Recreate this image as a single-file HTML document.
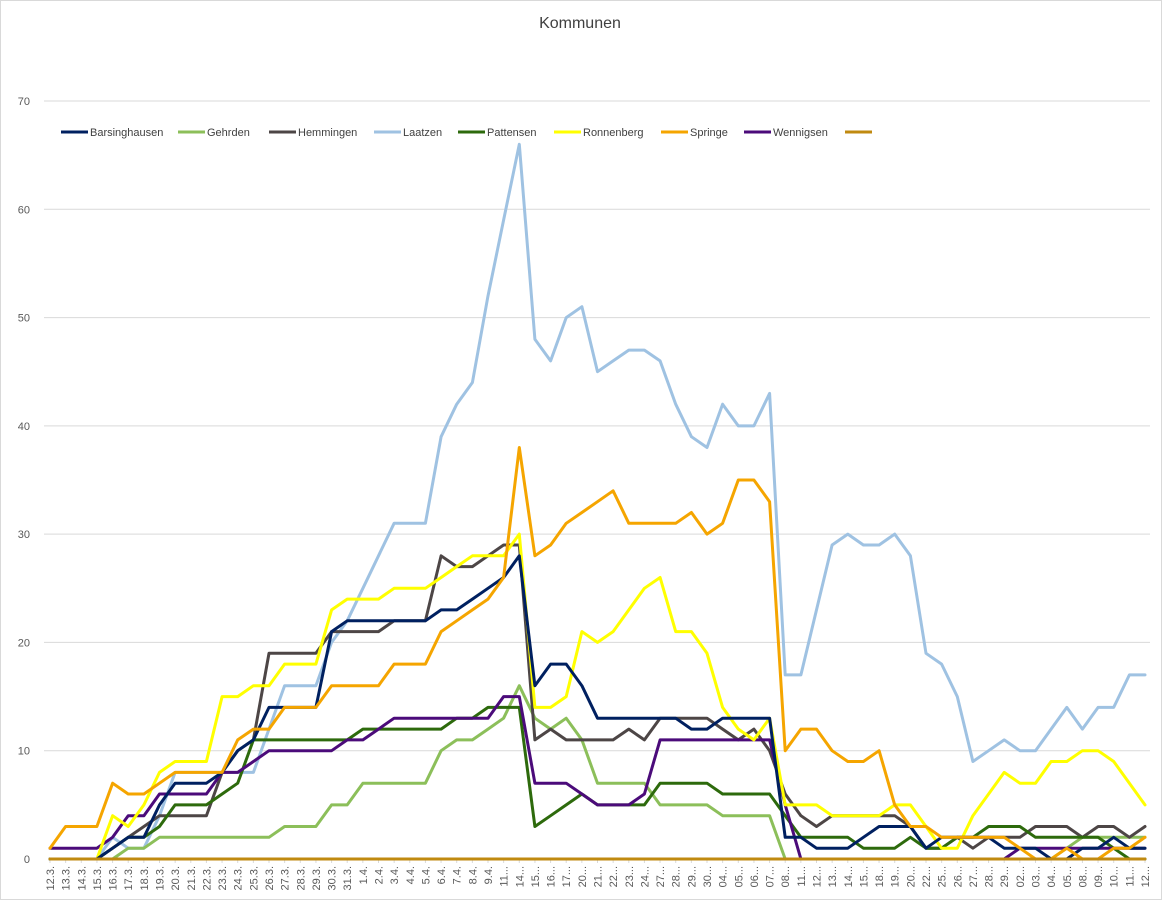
<!DOCTYPE html>
<html><head><meta charset="utf-8"><style>
body{margin:0;background:#fff;}
#wrap{position:relative;width:1162px;height:900px;overflow:hidden;font-family:"Liberation Sans",sans-serif;}
</style></head><body>
<div id="wrap">
<svg id="chart" width="1162" height="900"></svg>
</div>
<script>
const categories=["12.3.","13.3.","14.3.","15.3.","16.3.","17.3.","18.3.","19.3.","20.3.","21.3.","22.3.","23.3.","24.3.","25.3.","26.3.","27.3.","28.3.","29.3.","30.3.","31.3.","1.4.","2.4.","3.4.","4.4.","5.4.","6.4.","7.4.","8.4.","9.4.","11...","14...","15...","16...","17...","20...","21...","22...","23...","24...","27...","28...","29...","30...","04...","05...","06...","07...","08...","11...","12...","13...","14...","15...","18...","19...","20...","22...","25...","26...","27...","28...","29...","02...","03...","04...","05...","08...","09...","10...","11...","12..."];
const yTicks=[0,10,20,30,40,50,60,70];
const seriesNames=["Barsinghausen","Gehrden","Hemmingen","Laatzen","Pattensen","Ronnenberg","Springe","Wennigsen",""];
const barsinghausen=[0,0,0,0,1,2,2,5,7,7,7,8,10,11,14,14,14,14,21,22,22,22,22,22,22,23,23,24,25,26,28,16,18,18,16,13,13,13,13,13,13,12,12,13,13,13,13,2,2,1,1,1,2,3,3,3,1,2,2,2,2,1,1,1,0,0,1,1,2,1,1];
const gehrden=[0,0,0,0,0,1,1,2,2,2,2,2,2,2,2,3,3,3,5,5,7,7,7,7,7,10,11,11,12,13,16,13,12,13,11,7,7,7,7,5,5,5,5,4,4,4,4,0,0,0,0,0,0,0,0,0,0,0,0,0,0,0,0,0,0,1,2,2,2,2,2];
const hemmingen=[0,0,0,0,1,2,3,4,4,4,4,8,10,11,19,19,19,19,21,21,21,21,22,22,22,28,27,27,28,29,29,11,12,11,11,11,11,12,11,13,13,13,13,12,11,12,10,6,4,3,4,4,4,4,4,3,1,1,2,1,2,2,2,3,3,3,2,3,3,2,3];
const laatzen=[0,0,0,0,2,1,1,4,8,8,8,8,8,8,12,16,16,16,20,22,25,28,31,31,31,39,42,44,52,59,66,48,46,50,51,45,46,47,47,46,42,39,38,42,40,40,43,17,17,23,29,30,29,29,30,28,19,18,15,9,10,11,10,10,12,14,12,14,14,17,17];
const pattensen=[0,0,0,0,1,2,2,3,5,5,5,6,7,11,11,11,11,11,11,11,12,12,12,12,12,12,13,13,14,14,14,3,4,5,6,5,5,5,5,7,7,7,7,6,6,6,6,4,2,2,2,2,1,1,1,2,1,1,2,2,3,3,3,2,2,2,2,2,1,0,0];
const ronnenberg=[0,0,0,0,4,3,5,8,9,9,9,15,15,16,16,18,18,18,23,24,24,24,25,25,25,26,27,28,28,28,30,14,14,15,21,20,21,23,25,26,21,21,19,14,12,11,13,5,5,5,4,4,4,4,5,5,3,1,1,4,6,8,7,7,9,9,10,10,9,7,5];
const springe=[1,3,3,3,7,6,6,7,8,8,8,8,11,12,12,14,14,14,16,16,16,16,18,18,18,21,22,23,24,26,38,28,29,31,32,33,34,31,31,31,31,32,30,31,35,35,33,10,12,12,10,9,9,10,5,3,3,2,2,2,2,2,1,0,0,1,0,0,1,1,2];
const wennigsen=[1,1,1,1,2,4,4,6,6,6,6,8,8,9,10,10,10,10,10,11,11,12,13,13,13,13,13,13,13,15,15,7,7,7,6,5,5,5,6,11,11,11,11,11,11,11,11,5,0,0,0,0,0,0,0,0,0,0,0,0,0,0,1,1,1,1,1,1,1,1,1];
const baseline=categories.map(()=>0);
const allSeries=[barsinghausen,gehrden,hemmingen,laatzen,pattensen,ronnenberg,springe,wennigsen,baseline];
const colors=["#002060","#8cbf5a","#4d4646","#9fc2e2","#2d6a0c","#ffff00","#f5a500","#4b0b7a","#c08a10"];
const slugs=["barsinghausen","gehrden","hemmingen","laatzen","pattensen","ronnenberg","springe","wennigsen","unnamed"];
const legendX=[61,178,269,374,458,554,661,744,845];

const NS="http://www.w3.org/2000/svg";
const svg=document.getElementById('chart');
const X0=50,X1=1145,Y0=859,Y1=101,YMAX=70;
function xPos(i){return X0+(X1-X0)*i/(categories.length-1);}
function yPos(v){return Y0-(Y0-Y1)*v/YMAX;}
function mk(tag,attrs,parent){const e=document.createElementNS(NS,tag);for(const k in attrs)e.setAttribute(k,attrs[k]);(parent||svg).appendChild(e);return e;}

const border=mk('rect',{x:0.5,y:0.5,width:1161,height:899,fill:'#fff',stroke:'#d9d9d9'});



const title=mk('text',{x:580,y:28,'text-anchor':'middle','font-size':16,fill:'#404040'});
title.textContent='Kommunen';



yTicks.forEach(t=>{
  const y=yPos(t);
  if(t>0){const g=mk('line',{x1:44,x2:1150,y1:y,y2:y,stroke:'#d9d9d9','stroke-width':1});
  
  }
  const lb=mk('text',{x:30,y:y+4,'text-anchor':'end','font-size':11,fill:'#595959'});
  lb.textContent=t;
  
  
});

categories.forEach((c,i)=>{
  const x=xPos(i);
  const tk=mk('line',{x1:x,x2:x,y1:Y0,y2:Y0+4,stroke:'#d9d9d9'});
  
  
  const lb=mk('text',{x:0,y:0,'text-anchor':'end','font-size':11,fill:'#595959',transform:`translate(${x+4},${Y0+7}) rotate(-90)`});
  lb.textContent=c;
  
  
});

const order=[3,1,2,4,7,5,0,6,8];
order.forEach(s=>{
  const pts=allSeries[s].map((v,i)=>xPos(i).toFixed(1)+','+yPos(v).toFixed(1)).join(' ');
  const pl=mk('polyline',{points:pts,fill:'none',stroke:colors[s],'stroke-width':3,'stroke-linejoin':'round','stroke-linecap':'round'});
  
  
});

seriesNames.forEach((n,s)=>{
  const g=mk('g',{});
  
  
  mk('line',{x1:legendX[s],x2:legendX[s]+27,y1:132,y2:132,stroke:colors[s],'stroke-width':3},g);
  if(n){const t=mk('text',{x:legendX[s]+29,y:136,'font-size':11,fill:'#404040'},g);t.textContent=n;}
});
</script>
</body></html>
